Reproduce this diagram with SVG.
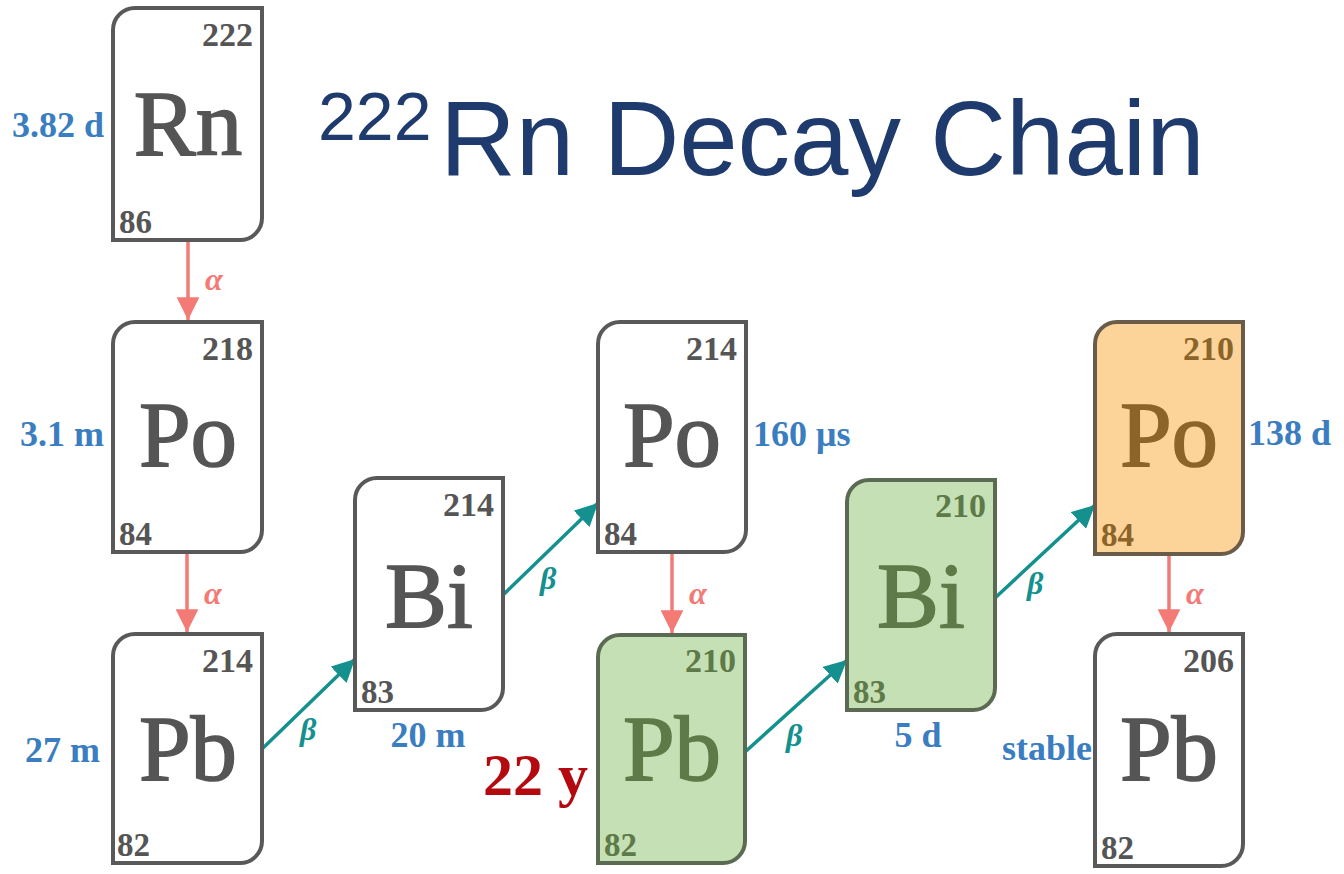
<svg xmlns="http://www.w3.org/2000/svg" width="1344" height="874" viewBox="0 0 1344 874">
<style>
  .box { fill: #ffffff; stroke: #595959; stroke-width: 4; }
  .green .box { fill: #c5e0b4; stroke: #5b6a52; }
  .orange .box { fill: #fcd399; stroke: #6b5b49; }
  .sym { font-family: "Liberation Serif", "Times New Roman", serif; font-size: 93px; fill: #555555; stroke: #555555; stroke-width: 1.6; text-anchor: middle; }
  .mass { font-family: "Liberation Serif", "Times New Roman", serif; font-size: 34px; font-weight: bold; fill: #555555; text-anchor: end; }
  .z { font-family: "Liberation Serif", "Times New Roman", serif; font-size: 33px; font-weight: bold; fill: #555555; }
  .green .sym, .green .mass, .green .z { fill: #5e7a48; stroke-opacity: 0; }
  .green .sym { stroke: #5e7a48; stroke-opacity: 1; }
  .orange .sym, .orange .mass, .orange .z { fill: #8b6429; }
  .orange .sym { stroke: #8b6429; }
  .hl { font-family: "Liberation Serif", "Times New Roman", serif; font-size: 36px; font-weight: bold; fill: #3a7dc0; }
  .red { font-family: "Liberation Serif", "Times New Roman", serif; font-size: 60px; font-weight: bold; fill: #b3090f; }
  .title { font-family: "Liberation Sans", Arial, sans-serif; fill: #1f3b6e; }
  .alpha { stroke: #f47a76; stroke-width: 3.5; fill: none; }
  .beta { stroke: #14918f; stroke-width: 3.5; fill: none; }
  .alab { font-family: "Liberation Serif", "Times New Roman", serif; font-size: 32px; font-style: italic; font-weight: bold; fill: #f47a76; }
  .blab { font-family: "Liberation Serif", "Times New Roman", serif; font-size: 32px; font-style: italic; font-weight: bold; fill: #14918f; }
</style>
<defs>
  <marker id="ha" viewBox="0 0 10 10" refX="10" refY="5" markerWidth="6.5" markerHeight="6.5" markerUnits="strokeWidth" orient="auto">
    <path d="M0,0 L10,5 L0,10 Z" fill="#f47a76"/>
  </marker>
  <marker id="hb" viewBox="0 0 10 10" refX="10" refY="5" markerWidth="6.5" markerHeight="6.5" markerUnits="strokeWidth" orient="auto">
    <path d="M0,0 L10,5 L0,10 Z" fill="#14918f"/>
  </marker>
</defs>

<g id="title">
  <text class="title" x="318" y="140" font-size="68">222</text>
  <text class="title" x="440" y="175" font-size="105">Rn Decay Chain</text>
</g>

<g id="connectors">
  <line class="alpha" x1="188" y1="242" x2="188" y2="320" marker-end="url(#ha)"/>
  <line class="alpha" x1="187" y1="554" x2="187" y2="632" marker-end="url(#ha)"/>
  <line class="alpha" x1="672" y1="554" x2="672" y2="633" marker-end="url(#ha)"/>
  <line class="alpha" x1="1169" y1="556" x2="1169" y2="632" marker-end="url(#ha)"/>
  <text class="alab" x="205" y="290">α</text>
  <text class="alab" x="204" y="604">α</text>
  <text class="alab" x="689" y="604">α</text>
  <text class="alab" x="1186" y="604">α</text>
  <line class="beta" x1="262" y1="749" x2="355" y2="659" marker-end="url(#hb)"/>
  <line class="beta" x1="503" y1="595" x2="598" y2="503" marker-end="url(#hb)"/>
  <line class="beta" x1="745" y1="752" x2="847" y2="660" marker-end="url(#hb)"/>
  <line class="beta" x1="995" y1="598" x2="1095" y2="505" marker-end="url(#hb)"/>
  <text class="blab" x="300" y="740">β</text>
  <text class="blab" x="540" y="589">β</text>
  <text class="blab" x="786" y="746">β</text>
  <text class="blab" x="1027" y="594">β</text>
</g>

<g id="rn222">
  <path class="box" d="M113,30 A22,22 0 0 1 135,8 H262 V218 A22,22 0 0 1 240,240 H113 Z"/>
  <text class="mass" x="253" y="46">222</text>
  <text class="sym" x="188" y="155">Rn</text>
  <text class="z" x="119" y="233">86</text>
  <text class="hl" x="104" y="137" text-anchor="end">3.82 d</text>
</g>

<g id="po218">
  <path class="box" d="M113,344 A22,22 0 0 1 135,322 H262 V530 A22,22 0 0 1 240,552 H113 Z"/>
  <text class="mass" x="253" y="360">218</text>
  <text class="sym" x="188" y="466">Po</text>
  <text class="z" x="119" y="545">84</text>
  <text class="hl" x="104" y="446" text-anchor="end">3.1 m</text>
</g>

<g id="pb214">
  <path class="box" d="M113,656 A22,22 0 0 1 135,634 H262 V841 A22,22 0 0 1 240,863 H113 Z"/>
  <text class="mass" x="253" y="672">214</text>
  <text class="sym" x="188" y="780">Pb</text>
  <text class="z" x="117" y="856">82</text>
  <text class="hl" x="100" y="762" text-anchor="end">27 m</text>
</g>

<g id="bi214">
  <path class="box" d="M355,500 A22,22 0 0 1 377,478 H503 V688 A22,22 0 0 1 481,710 H355 Z"/>
  <text class="mass" x="494" y="516">214</text>
  <text class="sym" x="429" y="627">Bi</text>
  <text class="z" x="361" y="703">83</text>
  <text class="hl" x="428" y="747" text-anchor="middle">20 m</text>
</g>

<g id="po214">
  <path class="box" d="M598,344 A22,22 0 0 1 620,322 H746 V530 A22,22 0 0 1 724,552 H598 Z"/>
  <text class="mass" x="737" y="360">214</text>
  <text class="sym" x="672" y="466">Po</text>
  <text class="z" x="604" y="545">84</text>
  <text class="hl" x="753" y="446">160 μs</text>
</g>

<g id="pb210" class="green">
  <path class="box" d="M598,657 A22,22 0 0 1 620,635 H745 V841 A22,22 0 0 1 723,863 H598 Z"/>
  <text class="mass" x="736" y="672">210</text>
  <text class="sym" x="672" y="780">Pb</text>
  <text class="z" x="604" y="856">82</text>
</g>
<g id="pb210-halflife">
  <text class="red" x="483" y="795">22 y</text>
</g>

<g id="bi210" class="green">
  <path class="box" d="M847,502 A22,22 0 0 1 869,480 H995 V688 A22,22 0 0 1 973,710 H847 Z"/>
  <text class="mass" x="986" y="517">210</text>
  <text class="sym" x="921" y="627">Bi</text>
  <text class="z" x="853" y="703">83</text>
</g>
<g id="bi210-halflife">
  <text class="hl" x="918" y="747" text-anchor="middle">5 d</text>
</g>

<g id="po210" class="orange">
  <path class="box" d="M1095,344 A22,22 0 0 1 1117,322 H1243 V532 A22,22 0 0 1 1221,554 H1095 Z"/>
  <text class="mass" x="1234" y="360">210</text>
  <text class="sym" x="1169" y="466">Po</text>
  <text class="z" x="1101" y="546">84</text>
</g>
<g id="po210-halflife">
  <text class="hl" x="1248" y="445">138 d</text>
</g>

<g id="pb206">
  <path class="box" d="M1095,656 A22,22 0 0 1 1117,634 H1243 V844 A22,22 0 0 1 1221,866 H1095 Z"/>
  <text class="mass" x="1234" y="672">206</text>
  <text class="sym" x="1169" y="780">Pb</text>
  <text class="z" x="1101" y="859">82</text>
  <text class="hl" x="1092" y="760" text-anchor="end">stable</text>
</g>
</svg>
